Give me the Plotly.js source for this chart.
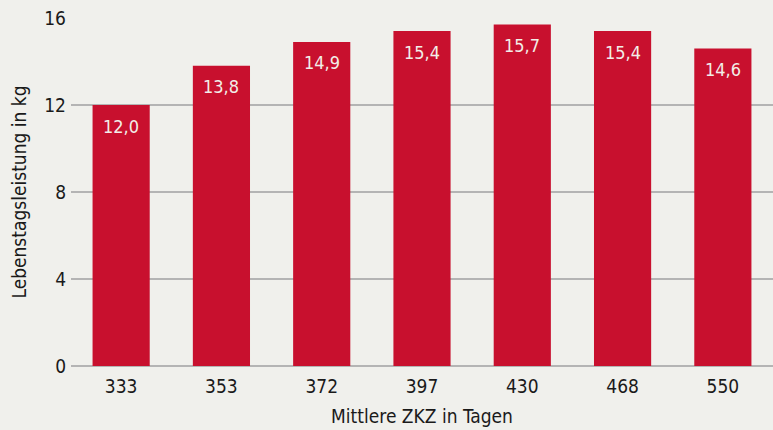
<!DOCTYPE html>
<html><head><meta charset="utf-8">
<script src="https://cdn.plot.ly/plotly-3.0.1.min.js"></script>
<style>html,body{margin:0;padding:0;background:#f0f0ec;}</style>
</head><body>
<div id="chart" style="width:773px;height:430px;"></div>
<script>
const categories = ["333", "353", "372", "397", "430", "468", "550"];
const values = [12.0, 13.8, 14.9, 15.4, 15.7, 15.4, 14.6];
const yTicks = [0, 4, 8, 12, 16];

const font = "'DejaVu Sans Condensed', 'Liberation Sans Narrow', 'Roboto', sans-serif";
const fmt = v => v.toFixed(1).replace('.', ',');

const annotations = categories.map((c, i) => ({
  x: i, y: values[i], xref: 'x', yref: 'y',
  text: fmt(values[i]), showarrow: false,
  yanchor: 'middle', yshift: -21,
  font: {color: '#f2eee8', size: 18, family: font}
}));

Plotly.newPlot('chart', [{
  type: 'bar',
  x: categories,
  y: values,
  marker: {color: '#c8102e'},
  hoverinfo: 'none'
}], {
  width: 773, height: 430,
  paper_bgcolor: '#f0f0ec', plot_bgcolor: '#f0f0ec',
  separators: ',.',
  margin: {l: 71, r: 0, t: 18, b: 64},
  bargap: 0.43,
  showlegend: false,
  annotations: annotations,
  font: {family: font, color: '#1a1a1a', size: 19},
  xaxis: {
    type: 'category',
    range: [-0.5, categories.length - 0.5],
    showgrid: false, zeroline: false, showline: false,
    ticks: '', tickfont: {size: 19}, ticklabelstandoff: 7,
    title: {text: 'Mittlere ZKZ in Tagen', font: {size: 19}, standoff: 13}
  },
  yaxis: {
    range: [0, 16],
    tickvals: yTicks,
    showgrid: true, gridcolor: '#b4b4b4', gridwidth: 1.5,
    zeroline: true, zerolinecolor: '#b4b4b4', zerolinewidth: 1.5,
    showline: false, ticks: '', ticklabelstandoff: 4,
    tickfont: {size: 19},
    title: {text: 'Lebenstagsleistung in kg', font: {size: 19}, standoff: 12}
  }
}, {displayModeBar: false, staticPlot: true});
</script>
</body></html>
